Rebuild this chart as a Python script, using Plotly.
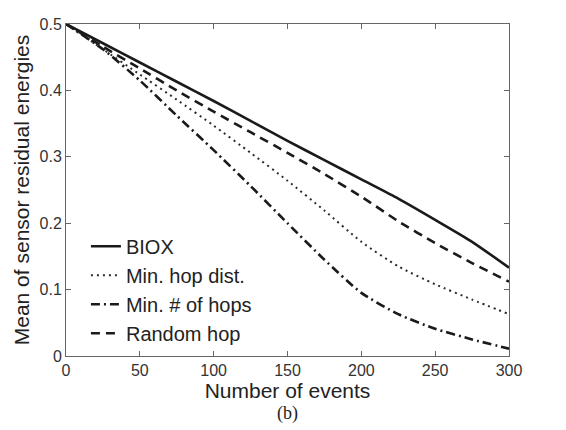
import plotly.graph_objects as go

events = [0, 25, 50, 75, 100, 125, 150, 175, 200, 225, 250, 275, 300]
biox = [0.5, 0.471, 0.442, 0.413, 0.384, 0.354, 0.324, 0.295, 0.266, 0.237, 0.205, 0.172, 0.133]
min_hop_dist = [0.5, 0.462, 0.424, 0.386, 0.347, 0.306, 0.264, 0.219, 0.172, 0.135, 0.108, 0.085, 0.063]
min_num_hops = [0.5, 0.462, 0.415, 0.362, 0.31, 0.256, 0.2, 0.145, 0.095, 0.063, 0.041, 0.025, 0.011]
random_hop = [0.5, 0.466, 0.433, 0.4, 0.368, 0.337, 0.306, 0.274, 0.24, 0.203, 0.17, 0.14, 0.112]

x_ticks = [0, 50, 100, 150, 200, 250, 300]
y_ticks = [0, 0.1, 0.2, 0.3, 0.4, 0.5]
y_tick_text = ["0", "0.1", "0.2", "0.3", "0.4", "0.5"]

series = [
    ("BIOX", biox, dict(color="#1a1a1a", width=2.6, dash="solid")),
    ("Min. hop dist.", min_hop_dist, dict(color="#2a2a2a", width=2.0, dash="2px,4px")),
    ("Min. # of hops", min_num_hops, dict(color="#1a1a1a", width=2.6, dash="9px,4px,2px,4px")),
    ("Random hop", random_hop, dict(color="#1a1a1a", width=2.6, dash="9px,6px")),
]

fig = go.Figure()
for i, (name, vals, line) in enumerate(series):
    fig.add_trace(go.Scatter(
        x=events, y=vals, mode="lines", name=name,
        line=dict(shape="spline", smoothing=0.6, **line),
        legendgroup=f"g{i}",
    ))

font = "Liberation Sans, Arial, Helvetica, sans-serif"
axis_common = dict(
    showgrid=False, zeroline=False, showline=True, linecolor="#666666", linewidth=1,
    mirror="ticks", ticks="inside", ticklen=5, tickcolor="#666666",
    tickfont=dict(family=font, size=16, color="#333333"),
    ticklabeloverflow="allow",
)

# the page has an 8px body margin, so the figure is sized to fit inside the window
fig.update_layout(
    width=558, height=422,
    margin=dict(l=58, r=57, t=8, b=74),
    paper_bgcolor="white", plot_bgcolor="white",
    showlegend=True,
    legend=dict(
        x=0.045, y=0.01, xanchor="left", yanchor="bottom",
        bgcolor="rgba(0,0,0,0)", borderwidth=0,
        font=dict(family=font, size=20, color="#222222"),
        traceorder="grouped", tracegroupgap=0,
    ),
    xaxis=dict(
        range=[0, 300], tickvals=x_ticks,
        title=dict(text="Number of events", font=dict(family=font, size=21, color="#222222"), standoff=0),
        **axis_common,
    ),
    yaxis=dict(
        range=[0, 0.5], tickvals=y_ticks, ticktext=y_tick_text,
        title=dict(text="Mean of sensor residual energies", font=dict(family=font, size=21, color="#222222"), standoff=4),
        **axis_common,
    ),
    annotations=[dict(
        text="(b)", x=0.5, y=-0.14, xref="paper", yref="paper",
        xanchor="center", yanchor="top", showarrow=False, borderpad=0,
        font=dict(family="Liberation Serif, Times New Roman, serif", size=18, color="#222222"),
    )],
)

fig.write_html("out.html")
